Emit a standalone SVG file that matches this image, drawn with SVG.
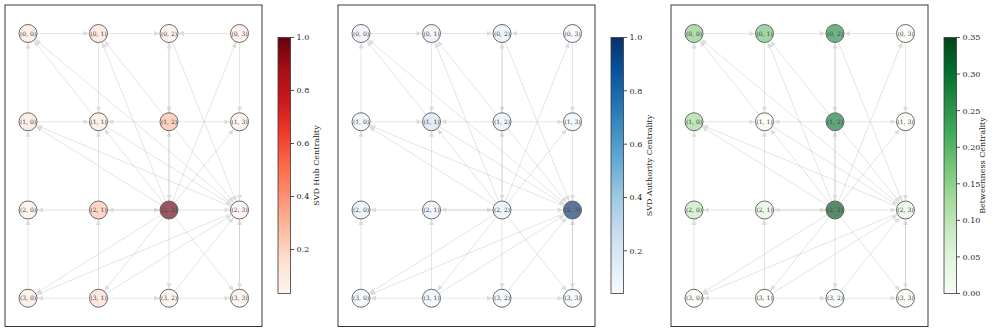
<svg xmlns="http://www.w3.org/2000/svg" xmlns:xlink="http://www.w3.org/1999/xlink" width="996" height="332" viewBox="0 0 996 332">
<style>
text{font-family:"DejaVu Serif","Liberation Serif",serif}
.frame{fill:#fff;stroke:#3a3a3a;stroke-width:1}
.e{stroke:#9a9a9a;stroke-opacity:0.26;stroke-width:1;fill:none;marker-end:url(#ah)}
.bg{fill:#fff}
.fg{fill-opacity:0.66;stroke:#5a5a5a;stroke-width:0.9}
.lb{font-size:6px;fill:#404040;text-anchor:middle}
.cb{stroke:#3a3a3a;stroke-width:0.8}
.tk{stroke:#222;stroke-width:0.8}
.tl{font-size:8px;fill:#222}
.cl{font-size:8px;fill:#222;text-anchor:middle}
</style>
<defs>
<marker id="ah" markerUnits="userSpaceOnUse" markerWidth="7" markerHeight="5" refX="15" refY="2.5" orient="auto" overflow="visible">
<path d="M0,0 L5.5,2.5 L0,5 Z" fill="#dcdcdc"/>
</marker>
<linearGradient id="gR" x1="0" y1="1" x2="0" y2="0">
<stop offset="0" stop-color="#fff5f0"/><stop offset="0.125" stop-color="#fee0d2"/><stop offset="0.25" stop-color="#fcbba1"/><stop offset="0.375" stop-color="#fc9272"/><stop offset="0.5" stop-color="#fb6a4a"/><stop offset="0.625" stop-color="#ef3b2c"/><stop offset="0.75" stop-color="#cb181d"/><stop offset="0.875" stop-color="#a50f15"/><stop offset="1" stop-color="#67000d"/>
</linearGradient>
<linearGradient id="gB" x1="0" y1="1" x2="0" y2="0">
<stop offset="0" stop-color="#f7fbff"/><stop offset="0.125" stop-color="#deebf7"/><stop offset="0.25" stop-color="#c6dbef"/><stop offset="0.375" stop-color="#9ecae1"/><stop offset="0.5" stop-color="#6baed6"/><stop offset="0.625" stop-color="#4292c6"/><stop offset="0.75" stop-color="#2171b5"/><stop offset="0.875" stop-color="#08519c"/><stop offset="1" stop-color="#08306b"/>
</linearGradient>
<linearGradient id="gG" x1="0" y1="1" x2="0" y2="0">
<stop offset="0" stop-color="#f7fcf5"/><stop offset="0.125" stop-color="#e5f5e0"/><stop offset="0.25" stop-color="#c7e9c0"/><stop offset="0.375" stop-color="#a1d99b"/><stop offset="0.5" stop-color="#74c476"/><stop offset="0.625" stop-color="#41ab5d"/><stop offset="0.75" stop-color="#238b45"/><stop offset="0.875" stop-color="#006d2c"/><stop offset="1" stop-color="#00441b"/>
</linearGradient>
<g id="edges">
<line class="e" x1="28" y1="33.5" x2="98.5" y2="33.5"/>
<line class="e" x1="98.5" y1="33.5" x2="169" y2="33.5"/>
<line class="e" x1="239.5" y1="33.5" x2="169" y2="33.5"/>
<line class="e" x1="28" y1="121.75" x2="98.5" y2="121.75"/>
<line class="e" x1="169" y1="121.75" x2="98.5" y2="121.75"/>
<line class="e" x1="169" y1="121.75" x2="239.5" y2="121.75"/>
<line class="e" x1="98.5" y1="210" x2="28" y2="210"/>
<line class="e" x1="98.5" y1="210" x2="169" y2="210"/>
<line class="e" x1="169" y1="210" x2="98.5" y2="210"/>
<line class="e" x1="169" y1="210" x2="239.5" y2="210"/>
<line class="e" x1="98.5" y1="298.25" x2="28" y2="298.25"/>
<line class="e" x1="98.5" y1="298.25" x2="169" y2="298.25"/>
<line class="e" x1="169" y1="298.25" x2="239.5" y2="298.25"/>
<line class="e" x1="28" y1="121.75" x2="28" y2="33.5"/>
<line class="e" x1="28" y1="210" x2="28" y2="121.75"/>
<line class="e" x1="28" y1="298.25" x2="28" y2="210"/>
<line class="e" x1="98.5" y1="33.5" x2="98.5" y2="121.75"/>
<line class="e" x1="98.5" y1="210" x2="98.5" y2="121.75"/>
<line class="e" x1="98.5" y1="298.25" x2="98.5" y2="210"/>
<line class="e" x1="169" y1="33.5" x2="169" y2="121.75"/>
<line class="e" x1="169" y1="121.75" x2="169" y2="33.5"/>
<line class="e" x1="169" y1="210" x2="169" y2="121.75"/>
<line class="e" x1="169" y1="121.75" x2="169" y2="210"/>
<line class="e" x1="169" y1="210" x2="169" y2="298.25"/>
<line class="e" x1="239.5" y1="33.5" x2="239.5" y2="121.75"/>
<line class="e" x1="239.5" y1="121.75" x2="239.5" y2="210"/>
<line class="e" x1="239.5" y1="298.25" x2="239.5" y2="210"/>
<line class="e" x1="239.5" y1="210" x2="239.5" y2="298.25"/>
<line class="e" x1="98.5" y1="121.75" x2="28" y2="33.5"/>
<line class="e" x1="239.5" y1="210" x2="28" y2="33.5"/>
<line class="e" x1="169" y1="121.75" x2="98.5" y2="33.5"/>
<line class="e" x1="169" y1="210" x2="98.5" y2="33.5"/>
<line class="e" x1="169" y1="33.5" x2="239.5" y2="210"/>
<line class="e" x1="169" y1="210" x2="239.5" y2="33.5"/>
<line class="e" x1="169" y1="210" x2="28" y2="121.75"/>
<line class="e" x1="239.5" y1="210" x2="28" y2="121.75"/>
<line class="e" x1="169" y1="210" x2="98.5" y2="121.75"/>
<line class="e" x1="98.5" y1="121.75" x2="239.5" y2="210"/>
<line class="e" x1="169" y1="121.75" x2="239.5" y2="210"/>
<line class="e" x1="169" y1="210" x2="239.5" y2="121.75"/>
<line class="e" x1="169" y1="210" x2="28" y2="298.25"/>
<line class="e" x1="239.5" y1="210" x2="28" y2="298.25"/>
<line class="e" x1="169" y1="210" x2="98.5" y2="298.25"/>
<line class="e" x1="98.5" y1="298.25" x2="239.5" y2="210"/>
<line class="e" x1="169" y1="298.25" x2="239.5" y2="210"/>
<line class="e" x1="169" y1="210" x2="239.5" y2="298.25"/>
</g>
</defs>

<!-- Panel 1: SVD Hub -->
<g id="panel-hub">
<rect class="frame" x="5" y="5" width="257" height="321.5"/>
<g id="hub-connectors"><use xlink:href="#edges" href="#edges"/></g>
<g id="hub-n00"><circle class="bg" cx="28" cy="33.5" r="9"/><circle class="fg" cx="28" cy="33.5" r="9" fill="#fee8dd"/><text class="lb" x="28" y="35.6">(0, 0)</text></g>
<g id="hub-n01"><circle class="bg" cx="98.5" cy="33.5" r="9"/><circle class="fg" cx="98.5" cy="33.5" r="9" fill="#fee4d8"/><text class="lb" x="98.5" y="35.6">(0, 1)</text></g>
<g id="hub-n02"><circle class="bg" cx="169" cy="33.5" r="9"/><circle class="fg" cx="169" cy="33.5" r="9" fill="#ffefe8"/><text class="lb" x="169" y="35.6">(0, 2)</text></g>
<g id="hub-n03"><circle class="bg" cx="239.5" cy="33.5" r="9"/><circle class="fg" cx="239.5" cy="33.5" r="9" fill="#ffede5"/><text class="lb" x="239.5" y="35.6">(0, 3)</text></g>
<g id="hub-n10"><circle class="bg" cx="28" cy="121.75" r="9"/><circle class="fg" cx="28" cy="121.75" r="9" fill="#fee4d8"/><text class="lb" x="28" y="123.85">(1, 0)</text></g>
<g id="hub-n11"><circle class="bg" cx="98.5" cy="121.75" r="9"/><circle class="fg" cx="98.5" cy="121.75" r="9" fill="#fee9df"/><text class="lb" x="98.5" y="123.85">(1, 1)</text></g>
<g id="hub-n12"><circle class="bg" cx="169" cy="121.75" r="9"/><circle class="fg" cx="169" cy="121.75" r="9" fill="#fcbba1"/><text class="lb" x="169" y="123.85">(1, 2)</text></g>
<g id="hub-n13"><circle class="bg" cx="239.5" cy="121.75" r="9"/><circle class="fg" cx="239.5" cy="121.75" r="9" fill="#fff2ed"/><text class="lb" x="239.5" y="123.85">(1, 3)</text></g>
<g id="hub-n20"><circle class="bg" cx="28" cy="210" r="9"/><circle class="fg" cx="28" cy="210" r="9" fill="#ffede5"/><text class="lb" x="28" y="212.1">(2, 0)</text></g>
<g id="hub-n21"><circle class="bg" cx="98.5" cy="210" r="9"/><circle class="fg" cx="98.5" cy="210" r="9" fill="#fcc2aa"/><text class="lb" x="98.5" y="212.1">(2, 1)</text></g>
<g id="hub-n22"><circle class="bg" cx="169" cy="210" r="9"/><circle class="fg" cx="169" cy="210" r="9" fill="#67000d"/><text class="lb" x="169" y="212.1">(2, 2)</text></g>
<g id="hub-n23"><circle class="bg" cx="239.5" cy="210" r="9"/><circle class="fg" cx="239.5" cy="210" r="9" fill="#fff2ed"/><text class="lb" x="239.5" y="212.1">(2, 3)</text></g>
<g id="hub-n30"><circle class="bg" cx="28" cy="298.25" r="9"/><circle class="fg" cx="28" cy="298.25" r="9" fill="#feeae1"/><text class="lb" x="28" y="300.35">(3, 0)</text></g>
<g id="hub-n31"><circle class="bg" cx="98.5" cy="298.25" r="9"/><circle class="fg" cx="98.5" cy="298.25" r="9" fill="#fedccd"/><text class="lb" x="98.5" y="300.35">(3, 1)</text></g>
<g id="hub-n32"><circle class="bg" cx="169" cy="298.25" r="9"/><circle class="fg" cx="169" cy="298.25" r="9" fill="#fff0ea"/><text class="lb" x="169" y="300.35">(3, 2)</text></g>
<g id="hub-n33"><circle class="bg" cx="239.5" cy="298.25" r="9"/><circle class="fg" cx="239.5" cy="298.25" r="9" fill="#fff3ee"/><text class="lb" x="239.5" y="300.35">(3, 3)</text></g>
<g id="hub-colorbar">
<rect class="cb" x="278" y="37.5" width="12.5" height="256" fill="url(#gR)"/>
<line class="tk" x1="290.5" y1="37.5" x2="294" y2="37.5"/><text class="tl" x="296.5" y="40.4">1.0</text>
<line class="tk" x1="290.5" y1="90.5" x2="294" y2="90.5"/><text class="tl" x="296.5" y="93.4">0.8</text>
<line class="tk" x1="290.5" y1="143.5" x2="294" y2="143.5"/><text class="tl" x="296.5" y="146.4">0.6</text>
<line class="tk" x1="290.5" y1="196.5" x2="294" y2="196.5"/><text class="tl" x="296.5" y="199.4">0.4</text>
<line class="tk" x1="290.5" y1="249.5" x2="294" y2="249.5"/><text class="tl" x="296.5" y="252.4">0.2</text>
<text class="cl" transform="translate(318.5,165.5) rotate(-90)">SVD Hub Centrality</text>
</g>
</g>

<!-- Panel 2: SVD Authority -->
<g id="panel-authority" transform="translate(333,0)">
<rect class="frame" x="5" y="5" width="257" height="321.5"/>
<g id="auth-connectors"><use xlink:href="#edges" href="#edges"/></g>
<g id="auth-n00"><circle class="bg" cx="28" cy="33.5" r="9"/><circle class="fg" cx="28" cy="33.5" r="9" fill="#eef5fc"/><text class="lb" x="28" y="35.6">(0, 0)</text></g>
<g id="auth-n01"><circle class="bg" cx="98.5" cy="33.5" r="9"/><circle class="fg" cx="98.5" cy="33.5" r="9" fill="#e8f1fa"/><text class="lb" x="98.5" y="35.6">(0, 1)</text></g>
<g id="auth-n02"><circle class="bg" cx="169" cy="33.5" r="9"/><circle class="fg" cx="169" cy="33.5" r="9" fill="#e3eef9"/><text class="lb" x="169" y="35.6">(0, 2)</text></g>
<g id="auth-n03"><circle class="bg" cx="239.5" cy="33.5" r="9"/><circle class="fg" cx="239.5" cy="33.5" r="9" fill="#f1f7fd"/><text class="lb" x="239.5" y="35.6">(0, 3)</text></g>
<g id="auth-n10"><circle class="bg" cx="28" cy="121.75" r="9"/><circle class="fg" cx="28" cy="121.75" r="9" fill="#edf4fc"/><text class="lb" x="28" y="123.85">(1, 0)</text></g>
<g id="auth-n11"><circle class="bg" cx="98.5" cy="121.75" r="9"/><circle class="fg" cx="98.5" cy="121.75" r="9" fill="#d3e4f3"/><text class="lb" x="98.5" y="123.85">(1, 1)</text></g>
<g id="auth-n12"><circle class="bg" cx="169" cy="121.75" r="9"/><circle class="fg" cx="169" cy="121.75" r="9" fill="#e6f0fa"/><text class="lb" x="169" y="123.85">(1, 2)</text></g>
<g id="auth-n13"><circle class="bg" cx="239.5" cy="121.75" r="9"/><circle class="fg" cx="239.5" cy="121.75" r="9" fill="#eff6fc"/><text class="lb" x="239.5" y="123.85">(1, 3)</text></g>
<g id="auth-n20"><circle class="bg" cx="28" cy="210" r="9"/><circle class="fg" cx="28" cy="210" r="9" fill="#e6f0fa"/><text class="lb" x="28" y="212.1">(2, 0)</text></g>
<g id="auth-n21"><circle class="bg" cx="98.5" cy="210" r="9"/><circle class="fg" cx="98.5" cy="210" r="9" fill="#e6f0fa"/><text class="lb" x="98.5" y="212.1">(2, 1)</text></g>
<g id="auth-n22"><circle class="bg" cx="169" cy="210" r="9"/><circle class="fg" cx="169" cy="210" r="9" fill="#e3eef9"/><text class="lb" x="169" y="212.1">(2, 2)</text></g>
<g id="auth-n23"><circle class="bg" cx="239.5" cy="210" r="9"/><circle class="fg" cx="239.5" cy="210" r="9" fill="#08306b"/><text class="lb" x="239.5" y="212.1">(2, 3)</text></g>
<g id="auth-n30"><circle class="bg" cx="28" cy="298.25" r="9"/><circle class="fg" cx="28" cy="298.25" r="9" fill="#f0f6fd"/><text class="lb" x="28" y="300.35">(3, 0)</text></g>
<g id="auth-n31"><circle class="bg" cx="98.5" cy="298.25" r="9"/><circle class="fg" cx="98.5" cy="298.25" r="9" fill="#eff6fc"/><text class="lb" x="98.5" y="300.35">(3, 1)</text></g>
<g id="auth-n32"><circle class="bg" cx="169" cy="298.25" r="9"/><circle class="fg" cx="169" cy="298.25" r="9" fill="#eff6fc"/><text class="lb" x="169" y="300.35">(3, 2)</text></g>
<g id="auth-n33"><circle class="bg" cx="239.5" cy="298.25" r="9"/><circle class="fg" cx="239.5" cy="298.25" r="9" fill="#f2f8fd"/><text class="lb" x="239.5" y="300.35">(3, 3)</text></g>
<g id="auth-colorbar">
<rect class="cb" x="278" y="37.5" width="12.5" height="256" fill="url(#gB)"/>
<line class="tk" x1="290.5" y1="37.5" x2="294" y2="37.5"/><text class="tl" x="296.5" y="40.4">1.0</text>
<line class="tk" x1="290.5" y1="90.8" x2="294" y2="90.8"/><text class="tl" x="296.5" y="93.7">0.8</text>
<line class="tk" x1="290.5" y1="144.2" x2="294" y2="144.2"/><text class="tl" x="296.5" y="147.1">0.6</text>
<line class="tk" x1="290.5" y1="197.5" x2="294" y2="197.5"/><text class="tl" x="296.5" y="200.4">0.4</text>
<line class="tk" x1="290.5" y1="250.8" x2="294" y2="250.8"/><text class="tl" x="296.5" y="253.7">0.2</text>
<text class="cl" transform="translate(318.5,165.5) rotate(-90)">SVD Authority Centrality</text>
</g>
</g>

<!-- Panel 3: Betweenness -->
<g id="panel-betweenness" transform="translate(666,0)">
<rect class="frame" x="5" y="5" width="257" height="321.5"/>
<g id="btw-connectors"><use xlink:href="#edges" href="#edges"/></g>
<g id="btw-n00"><circle class="bg" cx="28" cy="33.5" r="9"/><circle class="fg" cx="28" cy="33.5" r="9" fill="#85cb80"/><text class="lb" x="28" y="35.6">(0, 0)</text></g>
<g id="btw-n01"><circle class="bg" cx="98.5" cy="33.5" r="9"/><circle class="fg" cx="98.5" cy="33.5" r="9" fill="#6fc174"/><text class="lb" x="98.5" y="35.6">(0, 1)</text></g>
<g id="btw-n02"><circle class="bg" cx="169" cy="33.5" r="9"/><circle class="fg" cx="169" cy="33.5" r="9" fill="#258d47"/><text class="lb" x="169" y="35.6">(0, 2)</text></g>
<g id="btw-n03"><circle class="bg" cx="239.5" cy="33.5" r="9"/><circle class="fg" cx="239.5" cy="33.5" r="9" fill="#f7fcf5"/><text class="lb" x="239.5" y="35.6">(0, 3)</text></g>
<g id="btw-n10"><circle class="bg" cx="28" cy="121.75" r="9"/><circle class="fg" cx="28" cy="121.75" r="9" fill="#9dd798"/><text class="lb" x="28" y="123.85">(1, 0)</text></g>
<g id="btw-n11"><circle class="bg" cx="98.5" cy="121.75" r="9"/><circle class="fg" cx="98.5" cy="121.75" r="9" fill="#f7fcf5"/><text class="lb" x="98.5" y="123.85">(1, 1)</text></g>
<g id="btw-n12"><circle class="bg" cx="169" cy="121.75" r="9"/><circle class="fg" cx="169" cy="121.75" r="9" fill="#0f7837"/><text class="lb" x="169" y="123.85">(1, 2)</text></g>
<g id="btw-n13"><circle class="bg" cx="239.5" cy="121.75" r="9"/><circle class="fg" cx="239.5" cy="121.75" r="9" fill="#f7fcf5"/><text class="lb" x="239.5" y="123.85">(1, 3)</text></g>
<g id="btw-n20"><circle class="bg" cx="28" cy="210" r="9"/><circle class="fg" cx="28" cy="210" r="9" fill="#c3e7bc"/><text class="lb" x="28" y="212.1">(2, 0)</text></g>
<g id="btw-n21"><circle class="bg" cx="98.5" cy="210" r="9"/><circle class="fg" cx="98.5" cy="210" r="9" fill="#e2f4dd"/><text class="lb" x="98.5" y="212.1">(2, 1)</text></g>
<g id="btw-n22"><circle class="bg" cx="169" cy="210" r="9"/><circle class="fg" cx="169" cy="210" r="9" fill="#00511f"/><text class="lb" x="169" y="212.1">(2, 2)</text></g>
<g id="btw-n23"><circle class="bg" cx="239.5" cy="210" r="9"/><circle class="fg" cx="239.5" cy="210" r="9" fill="#e5f5e0"/><text class="lb" x="239.5" y="212.1">(2, 3)</text></g>
<g id="btw-n30"><circle class="bg" cx="28" cy="298.25" r="9"/><circle class="fg" cx="28" cy="298.25" r="9" fill="#f7fcf5"/><text class="lb" x="28" y="300.35">(3, 0)</text></g>
<g id="btw-n31"><circle class="bg" cx="98.5" cy="298.25" r="9"/><circle class="fg" cx="98.5" cy="298.25" r="9" fill="#f7fcf5"/><text class="lb" x="98.5" y="300.35">(3, 1)</text></g>
<g id="btw-n32"><circle class="bg" cx="169" cy="298.25" r="9"/><circle class="fg" cx="169" cy="298.25" r="9" fill="#f7fcf5"/><text class="lb" x="169" y="300.35">(3, 2)</text></g>
<g id="btw-n33"><circle class="bg" cx="239.5" cy="298.25" r="9"/><circle class="fg" cx="239.5" cy="298.25" r="9" fill="#f7fcf5"/><text class="lb" x="239.5" y="300.35">(3, 3)</text></g>
<g id="btw-colorbar">
<rect class="cb" x="278" y="37.5" width="12.5" height="256" fill="url(#gG)"/>
<line class="tk" x1="290.5" y1="37.5" x2="294" y2="37.5"/><text class="tl" x="296.5" y="40.4">0.35</text>
<line class="tk" x1="290.5" y1="74.07" x2="294" y2="74.07"/><text class="tl" x="296.5" y="76.97">0.30</text>
<line class="tk" x1="290.5" y1="110.64" x2="294" y2="110.64"/><text class="tl" x="296.5" y="113.54">0.25</text>
<line class="tk" x1="290.5" y1="147.21" x2="294" y2="147.21"/><text class="tl" x="296.5" y="150.11">0.20</text>
<line class="tk" x1="290.5" y1="183.79" x2="294" y2="183.79"/><text class="tl" x="296.5" y="186.69">0.15</text>
<line class="tk" x1="290.5" y1="220.36" x2="294" y2="220.36"/><text class="tl" x="296.5" y="223.26">0.10</text>
<line class="tk" x1="290.5" y1="256.93" x2="294" y2="256.93"/><text class="tl" x="296.5" y="259.83">0.05</text>
<line class="tk" x1="290.5" y1="293.5" x2="294" y2="293.5"/><text class="tl" x="296.5" y="296.4">0.00</text>
<text class="cl" transform="translate(318.5,165.5) rotate(-90)">Betweenness Centrality</text>
</g>
</g>
</svg>
